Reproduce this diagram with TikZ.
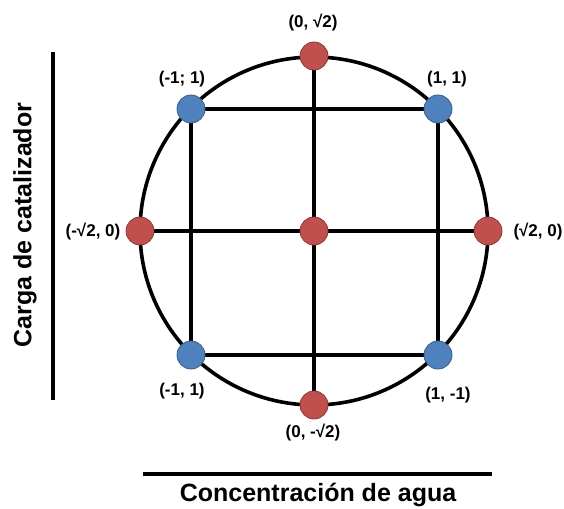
\documentclass[tikz,border=0pt]{standalone}
\usepackage{fontspec}
\setmainfont{Liberation Sans}
\usetikzlibrary{positioning,backgrounds}
\definecolor{ptred}{HTML}{C0504D}
\definecolor{ptredline}{HTML}{8C3836}
\definecolor{ptblue}{HTML}{4F81BD}
\definecolor{ptblueline}{HTML}{385D8A}

\begin{document}
\begin{tikzpicture}[x=1pt,y=-1pt,
    redpt/.style={circle,draw=ptredline,fill=ptred,line width=0.8pt,minimum size=28pt,inner sep=0pt},
    bluept/.style={circle,draw=ptblueline,fill=ptblue,line width=0.8pt,minimum size=28pt,inner sep=0pt},
    coordlabel/.style={font=\bfseries\fontsize{17}{20}\selectfont},
    axislabel/.style={font=\bfseries\fontsize{25}{30}\selectfont},
    gridline/.style={line width=3.6pt,black}
  ]
    \useasboundingbox (0,0) rectangle (564,508);

    % design points
    \node[redpt] (center) at (314,231) {};
    \node[redpt] (top) at (314,56) {};
    \node[redpt] (bottom) at (314,405) {};
    \node[redpt] (left) at (140,231) {};
    \node[redpt] (right) at (488,231) {};
    \node[bluept] (tl) at (191,109) {};
    \node[bluept] (tr) at (438,109) {};
    \node[bluept] (bl) at (191,355) {};
    \node[bluept] (br) at (438,355) {};

    \begin{scope}[on background layer]
      \draw[gridline] (center) circle[radius=174pt];
      \draw[gridline] (top.center) -- (bottom.center);
      \draw[gridline] (left.center) -- (right.center);
      \draw[gridline] (tl.center) -- (tr.center) -- (br.center) -- (bl.center) -- cycle;
    \end{scope}

    % coded levels
    \node[coordlabel] (ltop) at (313,23) {(0, √2)};
    \node[coordlabel] (ltl) at (182,79) {(-1; 1)};
    \node[coordlabel] (ltr) at (447,79) {(1, 1)};
    \node[coordlabel] (lleft) at (93,232) {(-√2, 0)};
    \node[coordlabel] (lright) at (538,232) {(√2, 0)};
    \node[coordlabel] (lbl) at (182,391) {(-1, 1)};
    \node[coordlabel] (lbr) at (448,395) {(1, -1)};
    \node[coordlabel] (lbottom) at (313,433) {(0, -√2)};

    % axes
    \coordinate (ytop) at (53,52);
    \coordinate (ybot) at (53,400);
    \draw[gridline] (ytop) -- (ybot);
    \node[axislabel,rotate=90] (ylab) at (25,225) {Carga de catalizador};

    \coordinate (xleft) at (143,474);
    \coordinate (xright) at (492,474);
    \draw[gridline] (xleft) -- (xright);
    \node[axislabel] (xlab) at (318,495) {Concentración de agua};
\end{tikzpicture}
\end{document}
